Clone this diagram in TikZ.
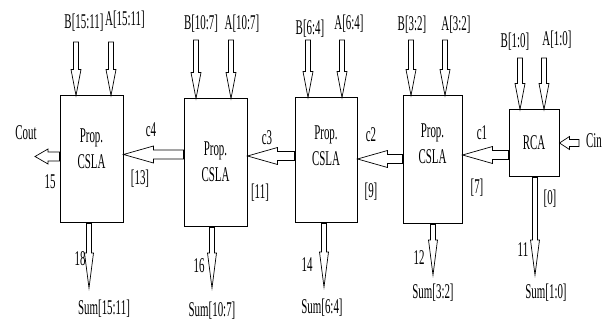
\documentclass[tikz,border=0pt]{standalone}
\usepackage{fontspec}
\setmainfont[FakeStretch=0.52]{Liberation Serif}
\usepackage{tikz}
\usetikzlibrary{calc}
\tikzset{
  shw/.store in=\shw, hdw/.store in=\hdw, hdl/.store in=\hdl,
  blk/.style={draw,line width=1pt},
  darr/.style={line width=0.7pt,to path={let \p1=(\tikztostart),\p2=(\tikztotarget) in
    (\x1-\shw,\y1) -- (\x1-\shw,\y2+\hdl) -- (\x1-\hdw,\y2+\hdl) -- (\x1,\y2) -- (\x1+\hdw,\y2+\hdl) -- (\x1+\shw,\y2+\hdl) -- (\x1+\shw,\y1) -- cycle}},
  larr/.style={line width=0.7pt,shw=4.5pt,hdw=8.5pt,hdl=30pt,to path={let \p1=(\tikztostart),\p2=(\tikztotarget) in
    (\x1,\y1-\shw) -- (\x2+\hdl,\y1-\shw) -- (\x2+\hdl,\y1-\hdw) -- (\x2,\y1) -- (\x2+\hdl,\y1+\hdw) -- (\x2+\hdl,\y1+\shw) -- (\x1,\y1+\shw) -- cycle}},
  inarr/.style={darr,shw=2.5pt,hdw=5pt,hdl=26pt},
  outarr/.style={darr,shw=2.5pt,hdw=4.5pt,hdl=35pt}
}

\begin{document}
\begin{tikzpicture}[x=1pt,y=-1pt,font=\fontsize{21}{26}\selectfont]
  \useasboundingbox (0,0) rectangle (608,320);
  % adder blocks
  \foreach \s/\xc/\yc/\w/\h in {p1/91.5/159.5/63/127, p2/215.5/163/63/128, p3/326/160.5/62/125, p4/432.5/160/59/128, rca/534/143.5/50/67}
    \node[blk,minimum width=\w pt,minimum height=\h pt] (\s) at (\xc,\yc) {};
  \foreach \s/\xc/\yc in {p1/91.5/149, p2/215.5/161.5, p3/326/146, p4/432.5/143.5}
    \node[align=center] (\s-t) at (\xc,\yc) {Prop.\\CSLA};
  \node (rca-t) at (534,143) {RCA};
  % inputs
  \foreach \s/\bx/\ax/\top in {p1/76/111/42, p2/196/231/40, p3/308/342/40, p4/411/445/40, rca/520/544/58} {
    \coordinate (\s-b) at (\bx,\top); \coordinate (\s-a) at (\ax,\top);
    \coordinate (\s-bn) at (\s-b |- \s.north); \coordinate (\s-an) at (\s-a |- \s.north);
    \draw[inarr] (\s-b) to (\s-bn);
    \draw[inarr] (\s-a) to (\s-an);
  }
  % sums
  \foreach \s/\xc/\e in {p1/89/288, p2/212/288, p3/324/287, p4/433/275, rca/535/275} {
    \coordinate (\s-s) at (\xc,\e);
    \coordinate (\s-ss) at (\s-s |- \s.south);
    \draw[outarr] (\s-ss) to (\s-s);
  }
  % carries
  \foreach \fr/\to/\yc in {p2/p1/154.5, p3/p2/156, p4/p3/159, rca/p4/155} {
    \coordinate (\fr-w) at (\fr.west |- 0,\yc); \coordinate (\to-e) at (\to.east |- 0,\yc);
    \draw[larr] (\fr-w) to (\to-e);
  }
  \coordinate (cout) at (35,156.5);
  \coordinate (p1-w) at (p1.west |- cout);
  \draw[larr,hdl=13pt,hdw=7.5pt] (p1-w) to (cout);
  \coordinate (cin) at (579,143);
  \coordinate (rca-e) at (rca.east |- cin);
  \draw[larr,hdl=10pt,hdw=6.5pt,shw=3.5pt] (cin) to (rca-e);
  % labels
  \foreach \m/\txt/\xc/\yc in {lb1/B[15:11]/84/23, la1/A[15:11]/125/20, lb2/B[10:7]/201/24, la2/A[10:7]/242/24,
      lb3/B[6:4]/310/29, la3/A[6:4]/349/24, lb4/B[3:2]/412/25, la4/A[3:2]/456/25, lb5/B[1:0]/515/42, la5/A[1:0]/557/40,
      lcin/Cin/594/141, lcout/Cout/26/133, lc4/c4/151/130, lc3/c3/267/138, lc2/c2/371/135, lc1/c1/482/133,
      lk13/[13]/140/179, lk11/[11]/260/193, lk9/[9]/371/192, lk7/[7]/477/188, lk0/[0]/550/199,
      n15/15/50/182, n18/18/80/259, n16/16/199/266, n14/14/307/265, n12/12/419/258, n11/11/523/250,
      ls1/Sum[15:11]/104/309, ls2/Sum[10:7]/212/311, ls3/Sum[6:4]/322/308, ls4/Sum[3:2]/433/293, ls5/Sum[1:0]/546/293}
    \node (\m) at (\xc,\yc) {\txt};
\end{tikzpicture}
\end{document}
